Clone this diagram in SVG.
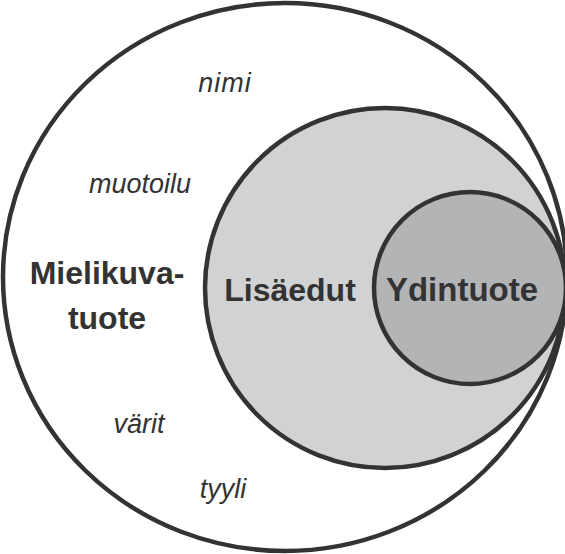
<svg xmlns="http://www.w3.org/2000/svg" width="565" height="554" viewBox="0 0 565 554">
<style>
.c{stroke:#333;stroke-width:4.5}
.b{font-family:"Liberation Sans",Arial,sans-serif;font-weight:bold;font-size:32px;fill:#333;text-anchor:middle}
.i{font-family:"Liberation Sans",Arial,sans-serif;font-style:italic;font-size:27px;fill:#333;text-anchor:middle}
</style>
<rect width="565" height="554" fill="#fff"/>
<g id="mielikuvatuote">
<ellipse class="c" cx="285" cy="277" rx="282" ry="274" fill="#fff"/>
<text class="b" x="107" y="284">Mielikuva-</text>
<text class="b" x="107" y="329">tuote</text>
<text class="i" x="225" y="92" letter-spacing="1">nimi</text>
<text class="i" x="140" y="193">muotoilu</text>
<text class="i" x="139" y="433">värit</text>
<text class="i" x="223" y="498">tyyli</text>
</g>
<g id="lisaedut">
<circle class="c" cx="385" cy="288" r="180" fill="#d1d2d4"/>
<text class="b" x="290" y="301">Lisäedut</text>
</g>
<g id="ydintuote">
<circle class="c" cx="470" cy="288" r="96" fill="#b3b4b6"/>
<text class="b" x="462" y="301" style="font-size:33px">Ydintuote</text>
</g>
<g id="connectors"/>
</svg>
